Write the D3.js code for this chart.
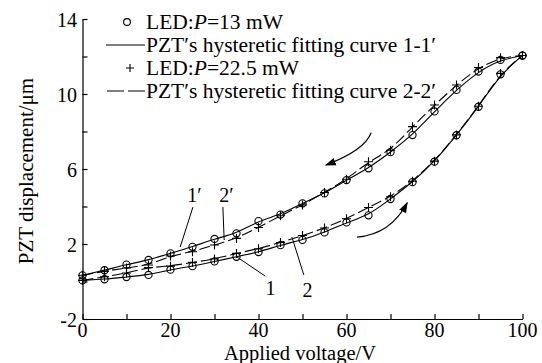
<!DOCTYPE html>
<html><head><meta charset="utf-8">
<script src="https://cdn.jsdelivr.net/npm/d3@7"></script>
<style>
body{margin:0;background:#fff;}
svg{display:block;font-family:"Liberation Serif","Times New Roman",serif;}
</style></head><body>
<svg id="chart" width="542" height="363"></svg>
<script>
// ---- data ----
const voltage = [0,5,10,15,20,25,30,35,40,45,50,55,60,65,70,75,80,85,90,95,100];
// LED P=13 mW (circles)
const up13   = [0.06,0.12,0.24,0.35,0.63,0.82,1.07,1.32,1.57,1.94,2.22,2.62,3.15,3.53,4.4,5.3,6.39,7.8,9.32,11.05,12.05];
const down13 = [0.33,0.6,0.9,1.15,1.5,1.85,2.27,2.57,3.22,3.57,4.17,4.7,5.41,6.04,6.9,7.81,9.07,10.22,11.2,11.82,12.05];
// LED P=22.5 mW (plus)
const up22   = [0.06,0.25,0.45,0.75,0.82,1.02,1.2,1.5,1.75,2.08,2.45,2.85,3.35,3.95,4.52,5.35,6.42,7.82,9.35,11.1,12.05];
const down22 = [0.33,0.55,0.72,0.88,1.36,1.59,1.95,2.3,2.88,3.51,4.08,4.75,5.45,6.39,7.0,8.26,9.41,10.48,11.41,11.94,12.05];
const xTicks = [0,10,20,30,40,50,60,70,80,90,100];
const xTickLabels = [0,20,40,60,80,100];
const yTicks = [-2,0,2,4,6,8,10,12,14];
const yTickLabels = [-2,2,6,10,14];

const svg = d3.select("#chart");
const x = d3.scaleLinear().domain([0,100]).range([82.5,522.5]);
const y = d3.scaleLinear().domain([-2,14]).range([319,19]);
const tickFont = "20px", titleFont = "20.5px", legFont = "21.5px";

// axes
const xAxis = svg.append("g").attr("transform",`translate(0,${y(-2)})`)
  .call(d3.axisBottom(x).tickValues(xTicks).tickSizeInner(-5).tickSizeOuter(0).tickFormat(""));
const yAxis = svg.append("g").attr("transform",`translate(${x(0)},0)`)
  .call(d3.axisLeft(y).tickValues(yTicks).tickSizeInner(-5).tickSizeOuter(0).tickFormat(""));
[xAxis,yAxis].forEach(a=>{a.selectAll("path,line").attr("stroke","#000").attr("stroke-width",1.2);});

svg.append("g").selectAll("text").data(xTickLabels).join("text")
  .attr("x",d=>x(d)).attr("y",336.5).attr("text-anchor","middle")
  .attr("font-size",tickFont).text(d=>d);
svg.append("g").selectAll("text").data(yTickLabels).join("text")
  .attr("x",77).attr("y",d=>y(d)+8).attr("text-anchor","end")
  .attr("font-size",tickFont).text(d=>d);

svg.append("text").attr("x",300).attr("y",359.5).attr("text-anchor","middle")
  .attr("font-size",titleFont).text("Applied voltage/V");
svg.append("text").attr("transform","translate(33,171) rotate(-90)").attr("text-anchor","middle")
  .attr("font-size","21px").text("PZT displacement/μm");

// fitting curves
const line = d3.line().x((d,i)=>x(voltage[i])).y(d=>y(d)).curve(d3.curveBasis);
const curves = [
  {d:up13,dash:null},{d:down13,dash:null},
  {d:up22,dash:"11,4"},{d:down22,dash:"11,4"}
];
svg.append("g").selectAll("path").data(curves).join("path")
  .attr("d",c=>line(c.d)).attr("fill","none").attr("stroke","#000")
  .attr("stroke-width",1.1).attr("stroke-dasharray",c=>c.dash);

// markers
const circ = up13.map((v,i)=>[voltage[i],v]).concat(down13.map((v,i)=>[voltage[i],v]));
svg.append("g").selectAll("circle").data(circ).join("circle")
  .attr("cx",d=>x(d[0])).attr("cy",d=>y(d[1])).attr("r",3.6)
  .attr("fill","none").attr("stroke","#000").attr("stroke-width",1.1);
const plus = up22.map((v,i)=>[voltage[i],v]).concat(down22.map((v,i)=>[voltage[i],v]));
svg.append("g").selectAll("path").data(plus).join("path")
  .attr("d",d=>`M${x(d[0])-4.5},${y(d[1])}h9M${x(d[0])},${y(d[1])-4.5}v9`)
  .attr("stroke","#000").attr("stroke-width",1.1).attr("fill","none");

// arrows
const defs = svg.append("defs");
defs.append("marker").attr("id","ah").attr("viewBox","0 0 10 10").attr("refX",9).attr("refY",5)
  .attr("markerWidth",11).attr("markerHeight",11).attr("markerUnits","userSpaceOnUse")
  .attr("orient","auto").append("path").attr("d","M0,1.5L10,5L0,8.5Z").attr("fill","#000");
const arrows = [
  [[65.6,7.93],[64.1,6.99],[55.3,6.21]],
  [[62.4,2.37],[70.0,2.51],[73.8,4.2]]
];
svg.append("g").selectAll("path").data(arrows).join("path")
  .attr("d",a=>`M${x(a[0][0])},${y(a[0][1])}Q${x(a[1][0])},${y(a[1][1])} ${x(a[2][0])},${y(a[2][1])}`)
  .attr("fill","none").attr("stroke","#000").attr("stroke-width",1.2).attr("marker-end","url(#ah)");

// curve labels with leader lines
const leaders = [
  [[25.1,3.97],[22.2,1.84]],
  [[31.9,3.97],[32.2,2.21]],
  [[35.1,1.31],[41.5,0.29]],
  [[47.6,2.37],[50.3,0.35]]
];
svg.append("g").selectAll("line").data(leaders).join("line")
  .attr("x1",d=>x(d[0][0])).attr("y1",d=>y(d[0][1])).attr("x2",d=>x(d[1][0])).attr("y2",d=>y(d[1][1]))
  .attr("stroke","#000").attr("stroke-width",1);
const curveLabels = [
  {t:"1′",v:[23.8,4.24]},{t:"2′",v:[31.1,4.24]},{t:"1",v:[41.6,-0.72]},{t:"2",v:[50.0,-0.83]}
];
svg.append("g").selectAll("text").data(curveLabels).join("text")
  .attr("x",d=>x(d.v[0])).attr("y",d=>y(d.v[1])).attr("font-size",tickFont).text(d=>d.t);

// legend
const legend = [
  {type:"circle",pre:"LED:",it:"P",post:"=13 mW"},
  {type:"solid",text:"PZT′s hysteretic fitting curve 1-1′"},
  {type:"plus",pre:"LED:",it:"P",post:"=22.5 mW"},
  {type:"dash",text:"PZT′s hysteretic fitting curve 2-2′"}
];
const lg = svg.append("g");
legend.forEach((l,i)=>{
  const cy = 22 + i*23;
  if(l.type==="circle") lg.append("circle").attr("cx",127).attr("cy",cy).attr("r",3.4).attr("fill","none").attr("stroke","#000").attr("stroke-width",1.1);
  if(l.type==="plus") lg.append("path").attr("d",`M${126},${cy}h8M${130},${cy-4}v8`).attr("stroke","#000").attr("stroke-width",1.1);
  if(l.type==="solid") lg.append("line").attr("x1",106).attr("x2",145).attr("y1",cy).attr("y2",cy).attr("stroke","#000").attr("stroke-width",1.1);
  if(l.type==="dash") lg.append("line").attr("x1",107).attr("x2",147).attr("y1",cy).attr("y2",cy).attr("stroke","#000").attr("stroke-width",1.1).attr("stroke-dasharray","17,4");
  const t = lg.append("text").attr("x",146).attr("y",cy+7).attr("font-size",legFont);
  if(l.text) t.text(l.text);
  else {t.append("tspan").text(l.pre);t.append("tspan").attr("font-style","italic").text(l.it);t.append("tspan").text(l.post);}
});
</script></body></html>
